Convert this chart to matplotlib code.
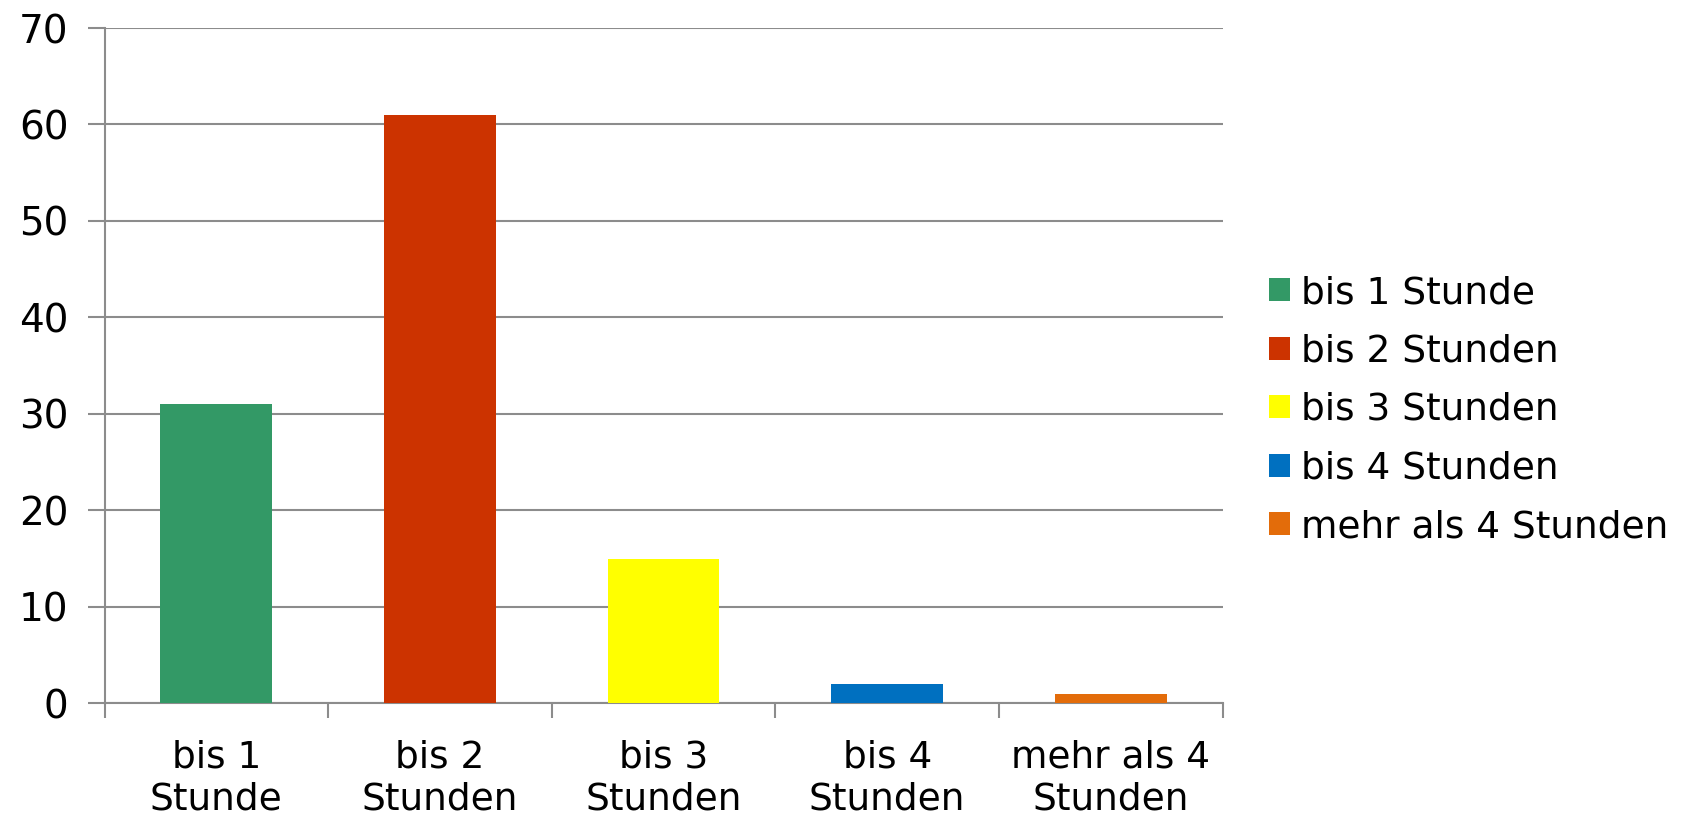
import matplotlib
matplotlib.use("Agg")
import matplotlib.pyplot as plt
from matplotlib.patches import Patch

categories = ["bis 1\nStunde", "bis 2\nStunden", "bis 3\nStunden", "bis 4\nStunden", "mehr als 4\nStunden"]
legend_labels = ["bis 1 Stunde", "bis 2 Stunden", "bis 3 Stunden", "bis 4 Stunden", "mehr als 4 Stunden"]
values = [31, 61, 15, 2, 1]
colors = ["#339966", "#CC3300", "#FFFF00", "#0070C0", "#E36C0A"]
yticks = [0, 10, 20, 30, 40, 50, 60, 70]

plt.rcParams['font.family'] = ['DejaVu Sans']

fig = plt.figure(figsize=(16.89, 8.16), dpi=100)
ax = fig.add_axes([104.5/1689, 1-703.4/816, (1222.6-104.5)/1689, (703.4-28)/816])

x = list(range(len(values)))
ax.bar(x, values, width=0.5, color=colors, zorder=3)

ax.set_xlim(-0.5, len(values)-0.5)
ax.set_ylim(0, 70)
ax.set_yticks(yticks)
ax.set_yticklabels([str(v) for v in yticks], fontsize=28)
ax.yaxis.grid(True, color="#8c8c8c", linewidth=1.5, zorder=0)
ax.tick_params(axis='y', length=12, width=1.5, color="#8c8c8c", pad=14)

ax.set_xticks([i - 0.5 for i in range(len(values)+1)])
ax.set_xticklabels([])
ax.set_xticks(x, minor=True)
ax.set_xticklabels(categories, minor=True, fontsize=27, linespacing=1.22)
ax.tick_params(axis='x', which='major', length=11, width=1.5, color="#8c8c8c", direction='out')
ax.tick_params(axis='x', which='minor', length=0, pad=26)

for s in ['top', 'right']:
    ax.spines[s].set_visible(False)
for s in ['left', 'bottom']:
    ax.spines[s].set_color("#8c8c8c")
    ax.spines[s].set_linewidth(1.5)

handles = [Patch(facecolor=c, edgecolor='none') for c in colors]
fig.legend(handles, legend_labels, loc='center left', bbox_to_anchor=(1269/1689, 1-410/816),
           frameon=False, fontsize=27, handlelength=0.55, handleheight=0.55,
           handletextpad=0.3, labelspacing=0.6, borderaxespad=0, borderpad=0)

fig.savefig("out.png", dpi=100)
